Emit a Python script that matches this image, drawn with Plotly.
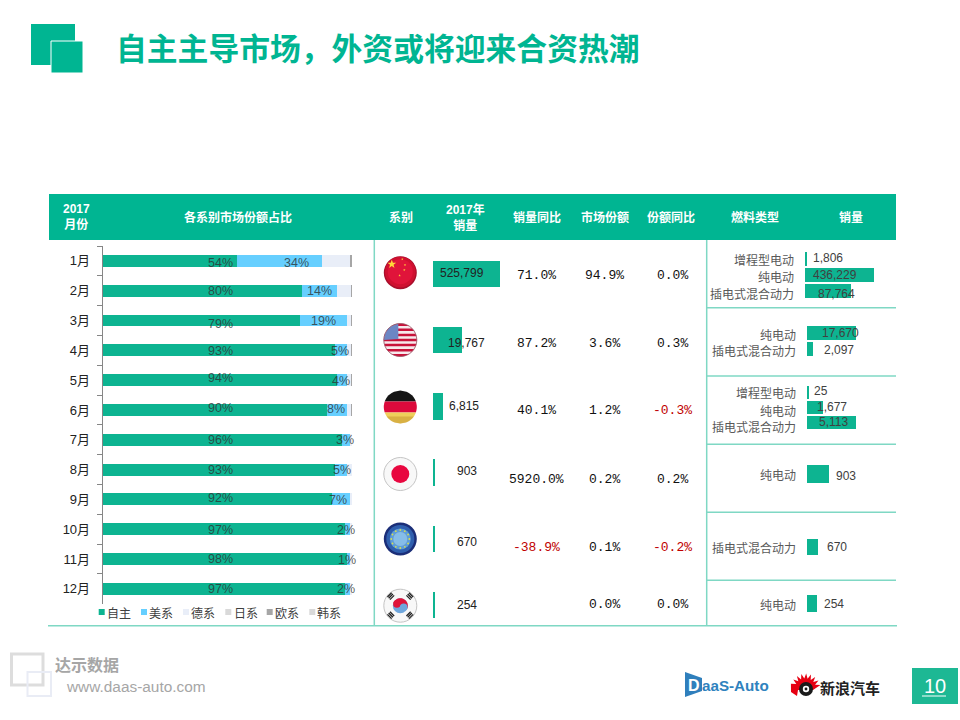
import numpy as np
import plotly.graph_objects as go

W, H = 960, 720
GREEN = "#00B592"
BAR = "#0DB491"
LINE = "#7FD8C4"
CJK = "Noto Sans CJK SC"
LATIN = "Liberation Sans, Noto Sans CJK SC"

# 各系别市场份额占比
months = ["1月", "2月", "3月", "4月", "5月", "6月", "7月", "8月", "9月", "10月", "11月", "12月"]
zizhu = [54, 80, 79, 93, 94, 90, 96, 93, 92, 97, 98, 97]
meixi = [34, 14, 19, 5, 4, 8, 3, 5, 7, 2, 1, 2]
dexi = [11, 5.5, 1.5, 1.5, 1.5, 1.5, 1, 2, 1, 1, 1, 1]
rixi = [0, 0, 0, 0, 0, 0, 0, 0, 0, 0, 0, 0]
ouxi = [1, 0.5, 0.5, 0.5, 0.5, 0.5, 0, 0, 0, 0, 0, 0]
hanxi = [0, 0, 0, 0, 0, 0, 0, 0, 0, 0, 0, 0]
series_names = ["自主", "美系", "德系", "日系", "欧系", "韩系"]
series_colors = ["#0DB491", "#66CFFF", "#E9EEF8", "#D9D9D9", "#A6A6A6", "#D9D9D9"]

# 系别表
countries = ["中国", "美国", "德国", "日本", "欧洲", "韩国"]
sales_text = ["525,799", "19,767", "6,815", "903", "670", "254"]
sales_bar = [67, 29, 10, 1.5, 1.5, 1.5]  # 条形长度按图上读取，不与销量成比例
yoy = ["71.0%", "87.2%", "40.1%", "5920.0%", "-38.9%", ""]
share = ["94.9%", "3.6%", "1.2%", "0.2%", "0.1%", "0.0%"]
share_yoy = ["0.0%", "0.3%", "-0.3%", "0.2%", "-0.2%", "0.0%"]

# 燃料类型
fuel_names = [
    ["增程型电动", "纯电动", "插电式混合动力"],
    ["纯电动", "插电式混合动力"],
    ["增程型电动", "纯电动", "插电式混合动力"],
    ["纯电动"],
    ["插电式混合动力"],
    ["纯电动"],
]
fuel_text = [["1,806", "436,229", "87,764"], ["17,670", "2,097"], ["25", "1,677", "5,113"], ["903"], ["670"], ["254"]]
fuel_bar = [[1.5, 69, 46], [49, 6], [1.5, 16, 49], [22], [11], [10]]


def fx(x):
    return x / W


def fy(y):
    return 1 - y / H


def poly(points):
    return "M" + " L".join(f"{fx(x):.5f},{fy(y):.5f}" for x, y in points) + " Z"


shapes = []
annotations = []


def rect(x0, y0, x1, y1, fill="rgba(0,0,0,0)", line=None, lw=0):
    shapes.append(dict(type="rect", xref="paper", yref="paper", x0=fx(x0), x1=fx(x1), y0=fy(y0), y1=fy(y1),
                       fillcolor=fill, line=dict(color=line or fill, width=lw)))


def seg(x0, y0, x1, y1, color=LINE, lw=1.5):
    shapes.append(dict(type="line", xref="paper", yref="paper", x0=fx(x0), x1=fx(x1), y0=fy(y0), y1=fy(y1),
                       line=dict(color=color, width=lw)))


def path(points, fill):
    shapes.append(dict(type="path", xref="paper", yref="paper", path=poly(points), fillcolor=fill,
                       line=dict(width=0)))


def disc(cx, cy, r, fill, line=None, lw=0):
    shapes.append(dict(type="circle", xref="paper", yref="paper", x0=fx(cx - r), x1=fx(cx + r), y0=fy(cy + r),
                       y1=fy(cy - r), fillcolor=fill, line=dict(color=line or fill, width=lw)))


def txt(x, y, s, size=12, color="#404040", anchor="center", family=LATIN):
    # 注释自带约 2px 内边距，这里抵消
    nudge = {"left": -2.5, "right": 2, "center": 0}[anchor]
    annotations.append(dict(xref="paper", yref="paper", x=fx(x + nudge), y=fy(y), text=s, showarrow=False, xanchor=anchor,
                            yanchor="middle", align="center", font=dict(size=size, color=color, family=family)))


def band(cx, cy, r, d0, d1):
    # 圆内 d0..d1 的水平带
    ys = np.linspace(d0, d1, 10)
    right = [(cx + np.sqrt(max(r * r - d * d, 0)), cy + d) for d in ys]
    left = [(cx - np.sqrt(max(r * r - d * d, 0)), cy + d) for d in ys[::-1]]
    return right + left


def star(cx, cy, r, rot=-90):
    ang = np.radians(rot + np.arange(10) * 36)
    rad = np.where(np.arange(10) % 2 == 0, r, r * 0.4)
    return list(zip(cx + rad * np.cos(ang), cy + rad * np.sin(ang)))


def rotated_rect(cx, cy, w, h, deg):
    a = np.radians(deg)
    pts = []
    for dx, dy in [(-w / 2, -h / 2), (w / 2, -h / 2), (w / 2, h / 2), (-w / 2, h / 2)]:
        pts.append((cx + dx * np.cos(a) - dy * np.sin(a), cy + dx * np.sin(a) + dy * np.cos(a)))
    return pts


def flag_cn(cx, cy, r=16.5):
    disc(cx, cy, r, "#A80F2C")
    disc(cx, cy - 0.6, r - 1.2, "#CF1030")
    disc(cx, cy - 1, r - 4, "#E0143A")
    path(star(cx - 8.5, cy - 8.5, 4.6), "#FFD83A")
    for dx, dy in [(2, -13.5), (4.7, -7.7), (4, -2.7), (-0.7, 2.7)]:
        path(star(cx + dx, cy + dy, 1.3), "#FFC83A")


def flag_us(cx, cy, r=16.5):
    disc(cx, cy, r, "#F6E9EC", "#D9B8C0", 0.5)
    n = 13
    step = 2 * r / n
    for i in range(0, n, 2):
        path(band(cx, cy, r, -r + i * step, -r + (i + 1) * step), "#C8123A")
    ang = np.radians(np.linspace(180, 263, 12))
    canton = [(cx + r * np.cos(t), cy + r * np.sin(t)) for t in ang] + [(cx - 2, cy - 1)]
    path(canton, "#6C86C4")
    disc(cx, cy, r, "rgba(0,0,0,0)", "#9A5A6A", 0.8)


def flag_de(cx, cy, r=16.5):
    path(band(cx, cy, r, -r, -5.6), "#151515")
    path(band(cx, cy, r, -5.6, 5.6), "#DC0A3C")
    path(band(cx, cy, r, 5.6, r), "#EFCF5A")
    path(band(cx, cy, r, 9.5, r), "rgba(190,140,40,0.45)")


def flag_jp(cx, cy, r=16.5):
    disc(cx, cy, r, "#F8F8F8", "#C4C4C4", 1)
    disc(cx, cy, 9, "#E8063F")


def flag_eu(cx, cy, r=16.5):
    disc(cx, cy, r, "#1B2E78")
    disc(cx, cy, r - 2.5, "#2F5FAE")
    disc(cx, cy, 10.5, "#5F9CD8")
    disc(cx, cy, 7, "#86BDE8")
    for t in np.radians(np.arange(12) * 30):
        disc(cx + 9 * np.cos(t), cy + 9 * np.sin(t), 0.9, "#D8E04A")


def flag_kr(cx, cy, r=16.5):
    disc(cx, cy, r, "#F8F8F8", "#C4C4C4", 1)
    rr = 7.5
    disc(cx, cy, rr, "#6FA6DC")
    tilt = np.radians(25)
    ang = np.linspace(tilt + np.pi, tilt + 2 * np.pi, 20)
    path([(cx + rr * np.cos(t), cy + rr * np.sin(t)) for t in ang], "#E0143A")
    ox, oy = rr / 2 * np.cos(tilt), rr / 2 * np.sin(tilt)
    disc(cx - ox, cy - oy, rr / 2, "#E0143A")
    disc(cx + ox, cy + oy, rr / 2, "#6FA6DC")
    for deg, dx, dy in [(-45, -9.5, -9.5), (45, 9.5, -9.5), (45, -9.5, 9.5), (-45, 9.5, 9.5)]:
        a = np.radians(deg)
        for k in (-1.8, 0, 1.8):
            path(rotated_rect(cx + dx - k * np.sin(a), cy + dy + k * np.cos(a), 6, 1.3, deg), "#222222")


fig = go.Figure()

# 堆积条形图
for name, values, color in zip(series_names, [zizhu, meixi, dexi, rixi, ouxi, hanxi], series_colors):
    fig.add_trace(go.Bar(y=months, x=values, name=name, orientation="h", marker=dict(color=color, line=dict(width=0)),
                         xaxis="x", yaxis="y", showlegend=False))

# 系别销量条
fig.add_trace(go.Bar(y=countries, x=sales_bar, orientation="h", marker=dict(color=BAR, line=dict(width=0)),
                     xaxis="x2", yaxis="y2", showlegend=False))

layout_axes = dict(
    xaxis=dict(domain=[102.7 / W, 352 / W], range=[0, 100], visible=False, fixedrange=True, anchor="y"),
    yaxis=dict(domain=[1 - 603.7 / H, 1 - 246 / H], type="category", categoryorder="array", categoryarray=months,
               autorange="reversed", showgrid=False, zeroline=False, showline=True, linecolor="#868686", linewidth=1,
               ticks="outside", tickson="boundaries", ticklen=5, tickcolor="#868686", ticklabelstandoff=9,
               tickfont=dict(size=13, color="#222222", family=LATIN), anchor="x"),
    xaxis2=dict(domain=[433 / W, 500 / W], range=[0, 67], visible=False, fixedrange=True, anchor="y2"),
    yaxis2=dict(domain=[1 - 638 / H, 1 - 241 / H], type="category", categoryarray=countries, categoryorder="array",
                autorange="reversed", visible=False, anchor="x2"),
)

# 燃料类型条：每组一对坐标轴
fuel_boxes = [(805, 251, 299), (807, 325, 357), (807, 384.7, 430), (807, 465, 483), (807, 539, 555), (807, 595, 612)]
fuel_gaps = [0.13, 0.1, 0.12, 0, 0, 0]
for i, (names, lengths, box, gap) in enumerate(zip(fuel_names, fuel_bar, fuel_boxes, fuel_gaps)):
    n = i + 3
    x0, top, bottom = box
    fig.add_trace(go.Bar(y=names, x=lengths, orientation="h", width=1 - gap,
                         marker=dict(color=BAR, line=dict(width=0)), xaxis=f"x{n}", yaxis=f"y{n}", showlegend=False))
    layout_axes[f"xaxis{n}"] = dict(domain=[x0 / W, (x0 + 80) / W], range=[0, 80], visible=False, anchor=f"y{n}")
    layout_axes[f"yaxis{n}"] = dict(domain=[1 - bottom / H, 1 - top / H], type="category", categoryarray=names,
                                    categoryorder="array", autorange="reversed", visible=False, anchor=f"x{n}")

# 标题与图标
rect(31, 24, 75, 65, GREEN)
rect(51, 41, 83, 73, GREEN, "#FFFFFF", 1)
txt(116, 46, "<b>自主主导市场，外资或将迎来合资热潮</b>", size=30.8, color=GREEN, anchor="left", family=CJK)

# 表头
rect(49, 194, 896, 240, GREEN)
for x, label in [(76, "2017<br>月份"), (238, "各系别市场份额占比"), (400.7, "系别"), (465, "2017年<br>销量"),
                 (536.7, "销量同比"), (604.7, "市场份额"), (670.7, "份额同比"), (755, "燃料类型"), (851, "销量")]:
    txt(x, 217, f"<b>{label}</b>", size=12, color="#FFFFFF", family=LATIN)

# 分隔线
seg(374.3, 240, 374.3, 626)
seg(706.7, 240, 706.7, 626)
seg(48, 625.7, 897, 625.7)
for y in [307.7, 376, 444.3, 512.3, 580.3]:
    seg(706.7, y, 896, y)

# 月度标签
label_green_dy = [2, 0, 3, 1, -2, -2, 0, 0, -1, 1, 0, 0]
label_blue_dy = [2, 0, 0, 1, 1, -1, 0, 0, 1, 1, 1, 0]
label_blue_dx = [17, 0, 0, -1, -1, -1, -1, 1, -3, -1, -1, -1]
label_color = "rgba(45,50,50,0.8)"
for m, g, b, gd, bd, bx in zip(months, zizhu, meixi, label_green_dy, label_blue_dy, label_blue_dx):
    annotations.append(dict(xref="x", yref="y", x=47.3, y=m, yshift=-gd, text=f"{g}%", showarrow=False,
                            font=dict(size=12.5, color=label_color, family=LATIN)))
    annotations.append(dict(xref="x", yref="y", x=g + b / 2, y=m, xshift=bx, yshift=-bd, text=f"{b}%", showarrow=False,
                            font=dict(size=12.5, color=label_color, family=LATIN)))

# 图例
for x_sq, x_txt, name, color in zip([98.7, 141, 183, 225.3, 266.7, 309.3], [107.5, 149.7, 191.7, 234, 275.7, 317],
                                    series_names, series_colors):
    rect(x_sq, 609, x_sq + 6, 615, color)
    txt(x_txt, 612, name, size=12, color="#404040", anchor="left", family=CJK)

# 国旗
for draw, cy in zip([flag_cn, flag_us, flag_de, flag_jp, flag_eu, flag_kr], [272.7, 340, 407, 474, 539, 605.7]):
    draw(400.3, cy)

# 系别表文字
for s, x, y in zip(sales_text, [462, 466, 464, 467, 467, 467], [273, 343, 406, 471, 541.7, 604.7]):
    txt(x, y, s, size=12, color="#222222")
mono = "Liberation Mono, DejaVu Sans Mono"
for row_y, a, b, c in zip([275, 343, 410.7, 479.5, 547.3, 604], yoy, share, share_yoy):
    txt(536.7, row_y, a, size=13, color="#C00000" if a.startswith("-") else "#111111", family=mono)
    txt(604.7, row_y, b, size=13, color="#111111", family=mono)
    txt(672.7, row_y, c, size=13, color="#C00000" if c.startswith("-") else "#111111", family=mono)

# 燃料类型文字
fuel_label_x = [794, 796, 796, 796, 796, 796]
fuel_label_y = [[259, 276.7, 293], [334, 350.7], [393, 410, 426], [474], [547], [604]]
fuel_value_x = [[828, 834.7, 836], [840, 839], [821, 831.7, 833], [846], [837], [834]]
fuel_value_y = [[257.7, 275, 294], [333, 350], [390.5, 407, 422], [476], [547], [604]]
for names, values, lx, lys, vxs, vys in zip(fuel_names, fuel_text, fuel_label_x, fuel_label_y, fuel_value_x, fuel_value_y):
    for name, value, ly, vx, vy in zip(names, values, lys, vxs, vys):
        txt(lx, ly, name, size=12, color="#595959", anchor="right", family=CJK)
        txt(vx, vy, value, size=12, color="#404040")

# 页脚
rect(11.5, 654, 43, 685, "rgba(0,0,0,0)", "#DDDDDD", 3)
rect(27.5, 672, 51, 696, "rgba(0,0,0,0)", "#E9ECF5", 2)
txt(55, 664, "<b>达示数据</b>", size=16, color="#A6A6A6", anchor="left", family=CJK)
txt(66, 686, "www.daas-auto.com", size=15.4, color="#A6A6A6", anchor="left", family="Liberation Sans")

# DaaS-Auto
path([(685, 672), (702, 678), (702, 691), (685, 697)], "#2F7FBC")
txt(693.5, 685, "<b>D</b>", size=16, color="#FFFFFF", family="Liberation Sans")
txt(702, 685, "<b>aaS-Auto</b>", size=15.2, color="#2F82BE", anchor="left", family="Liberation Sans")

# 新浪汽车
ang = np.radians(np.linspace(200, 345, 17))
rad = np.where(np.arange(17) % 2 == 0, 15.5, 10.5)
rays = [(805.5 + r * np.cos(t), 689 + r * np.sin(t)) for r, t in zip(rad, ang)]
path(rays + [(813, 690), (798, 690), (797, 696), (791, 692)], "#E60012")
disc(806, 689, 7, "#1A1A1A")
disc(806, 689, 3.2, "#FFFFFF")
disc(806, 689, 1.4, "#1A1A1A")
txt(820, 687, "<b>新浪汽车</b>", size=15, color="#222222", anchor="left", family=CJK)

# 页码
rect(912, 668, 958, 704, "#1DB894")
txt(935, 686, "10", size=20, color="#FFFFFF", family="Liberation Sans")
seg(922, 696, 946, 696, "#FFFFFF", 1)

fig.update_layout(
    width=W, height=H, margin=dict(l=0, r=0, t=0, b=0), paper_bgcolor="#FFFFFF", plot_bgcolor="rgba(0,0,0,0)",
    barmode="stack", bargap=0.6, showlegend=False, shapes=shapes, annotations=annotations, **layout_axes,
)

fig.write_html("out.html", config=dict(displayModeBar=False), post_script="document.body.style.margin='0';")
